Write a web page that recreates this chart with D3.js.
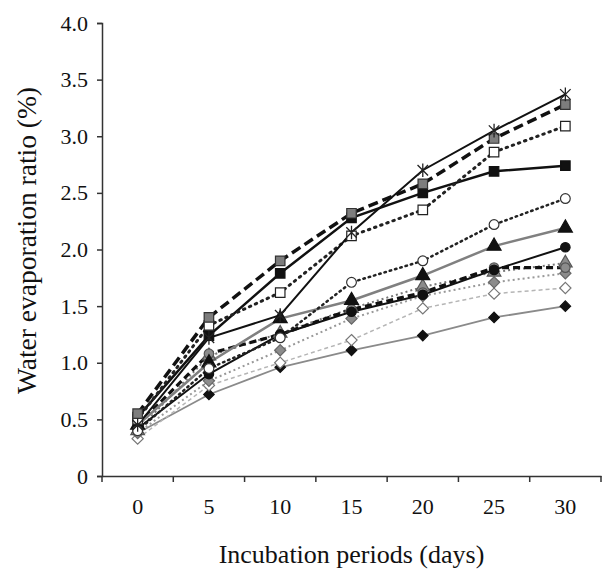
<!DOCTYPE html>
<html>
<head>
<meta charset="utf-8">
<script src="https://cdn.jsdelivr.net/npm/d3@7"></script>
<style>
  body { margin: 0; background: #fff; }
  svg text { font-family: "Liberation Serif", "Times New Roman", serif; fill: #111; }
</style>
</head>
<body>
<div id="chart"></div>
<script>
/* CONSTANTS AND GLOBALS */
const width = 606,
  height = 569,
  margin = { top: 23, bottom: 93, left: 102, right: 5 };

// x categories (days) and y ticks
const days = ["0", "5", "10", "15", "20", "25", "30"];
const yTicks = [0, 0.5, 1, 1.5, 2, 2.5, 3, 3.5, 4];

// series values
const starVals = [0.45, 1.22, 1.42, 2.15, 2.70, 3.05, 3.37];
const graySquareVals = [0.55, 1.40, 1.90, 2.32, 2.58, 2.98, 3.28];
const openSquareVals = [0.50, 1.33, 1.62, 2.12, 2.35, 2.86, 3.09];
const blackSquareVals = [0.52, 1.24, 1.79, 2.28, 2.50, 2.69, 2.74];
const openCircleVals = [0.40, 0.95, 1.22, 1.71, 1.90, 2.22, 2.45];
const blackTriangleVals = [0.45, 1.00, 1.39, 1.55, 1.77, 2.03, 2.19];
const blackCircleVals = [0.42, 0.90, 1.25, 1.45, 1.60, 1.82, 2.02];
const grayCircleVals = [0.45, 1.08, 1.25, 1.47, 1.62, 1.84, 1.84];
const grayTriangleVals = [0.40, 1.06, 1.26, 1.48, 1.67, 1.80, 1.88];
const grayDiamondVals = [0.38, 0.84, 1.11, 1.39, 1.59, 1.71, 1.79];
const openDiamondVals = [0.33, 0.80, 1.00, 1.20, 1.48, 1.61, 1.66];
const blackDiamondVals = [0.38, 0.72, 0.96, 1.11, 1.24, 1.40, 1.50];

// excel-like star marker: an X with a vertical bar
const starSymbol = {
  draw(ctx, size) {
    const r = Math.sqrt(size) / 2;
    ctx.moveTo(-r, -r); ctx.lineTo(r, r);
    ctx.moveTo(r, -r); ctx.lineTo(-r, r);
    ctx.moveTo(0, -r * 1.3); ctx.lineTo(0, r * 1.3);
  }
};

// drawn bottom first so the dark ones sit on top
const series = [
  { vals: blackDiamondVals, sym: d3.symbolDiamond2, fill: "#111", mstroke: "#111", line: "#8a8a8a", lw: 1.8, dash: null, size: 70 },
  { vals: openDiamondVals, sym: d3.symbolDiamond2, fill: "#fff", mstroke: "#777", line: "#b5b5b5", lw: 1.5, dash: "4,3", size: 80 },
  { vals: grayDiamondVals, sym: d3.symbolDiamond2, fill: "#8c8c8c", mstroke: "#666", line: "#999", lw: 2, dash: "2,3", size: 80 },
  { vals: grayTriangleVals, sym: d3.symbolTriangle, fill: "#8c8c8c", mstroke: "#555", line: "#777", lw: 2, dash: "2,3", size: 80 },
  { vals: grayCircleVals, sym: d3.symbolCircle, fill: "#8c8c8c", mstroke: "#555", line: "#111", lw: 3.2, dash: "7,4", size: 70 },
  { vals: blackCircleVals, sym: d3.symbolCircle, fill: "#111", mstroke: "#111", line: "#111", lw: 2, dash: null, size: 70 },
  { vals: blackTriangleVals, sym: d3.symbolTriangle, fill: "#111", mstroke: "#111", line: "#808080", lw: 2.5, dash: null, size: 85 },
  { vals: openCircleVals, sym: d3.symbolCircle, fill: "#fff", mstroke: "#333", line: "#222", lw: 2.5, dash: "1.5,4", size: 75 },
  { vals: blackSquareVals, sym: d3.symbolSquare, fill: "#111", mstroke: "#111", line: "#111", lw: 2.5, dash: null, size: 90 },
  { vals: openSquareVals, sym: d3.symbolSquare, fill: "#fff", mstroke: "#222", line: "#222", lw: 3, dash: "1.5,5", size: 90 },
  { vals: graySquareVals, sym: d3.symbolSquare, fill: "#7d7d7d", mstroke: "#333", line: "#111", lw: 3.5, dash: "10,5", size: 90 },
  { vals: starVals, sym: starSymbol, fill: "none", mstroke: "#222", line: "#111", lw: 2, dash: null, size: 110 }
];

/* SCALES */
const xScale = d3.scaleBand()
  .domain(days)
  .range([margin.left, width - margin.right]);

const yScale = d3.scaleLinear()
  .domain([0, 4])
  .range([height - margin.bottom, margin.top]);

/* SVG */
const svg = d3.select("#chart")
  .append("svg")
  .attr("width", width)
  .attr("height", height);

// + AXES
const yAxis = d3.axisLeft(yScale)
  .tickValues(yTicks)
  .tickSize(5)
  .tickPadding(9)
  .tickFormat(d => d === 0 ? "0" : d3.format(".1f")(d));

const gy = svg.append("g")
  .attr("class", "axis y-axis")
  .attr("transform", `translate(${margin.left},0)`)
  .call(yAxis);

gy.select(".domain").attr("stroke", "#333").attr("stroke-width", 1.5);
gy.selectAll(".tick line").attr("stroke", "#333").attr("stroke-width", 1.5);
gy.selectAll(".tick text").attr("font-size", 22).attr("fill", "#111");

const xAxis = d3.axisBottom(xScale)
  .tickSize(0)
  .tickPadding(22);

const gx = svg.append("g")
  .attr("class", "axis x-axis")
  .attr("transform", `translate(0,${height - margin.bottom})`)
  .call(xAxis);

gx.select(".domain").attr("stroke", "#333").attr("stroke-width", 1.5);
gx.selectAll(".tick text").attr("font-size", 22).attr("fill", "#111");

// tick marks sit between the categories, excel style
const bounds = days.map(d => xScale(d)).concat([xScale.range()[1]]);
gx.selectAll(".bound")
  .data(bounds)
  .join("line")
  .attr("class", "bound")
  .attr("x1", d => d)
  .attr("x2", d => d)
  .attr("y1", 0)
  .attr("y2", 6)
  .attr("stroke", "#333")
  .attr("stroke-width", 1.5);

// axis titles
svg.append("text")
  .attr("x", (margin.left + width - margin.right) / 2)
  .attr("y", 563)
  .attr("text-anchor", "middle")
  .attr("font-size", 26)
  .text("Incubation periods (days)");

svg.append("text")
  .attr("transform", `translate(36,${(margin.top + height - margin.bottom) / 2 - 9}) rotate(-90)`)
  .attr("text-anchor", "middle")
  .attr("font-size", 27.5)
  .text("Water evaporation ratio (%)");

/* LINES AND MARKERS */
const cx = i => xScale(days[i]) + xScale.bandwidth() / 2;

const line = d3.line()
  .x((d, i) => cx(i))
  .y(d => yScale(d));

const plot = svg.append("g").attr("class", "plot");

series.forEach(s => {
  plot.append("path")
    .datum(s.vals)
    .attr("fill", "none")
    .attr("stroke", s.line)
    .attr("stroke-width", s.lw)
    .attr("stroke-dasharray", s.dash)
    .attr("stroke-linecap", s.dash && s.dash.startsWith("1.5") ? "round" : "butt")
    .attr("d", line);
});

series.forEach(s => {
  const sym = d3.symbol().type(s.sym).size(s.size);
  plot.append("g")
    .selectAll("path")
    .data(s.vals)
    .join("path")
    .attr("transform", (d, i) => `translate(${cx(i)},${yScale(d)})`)
    .attr("d", sym)
    .attr("fill", s.fill)
    .attr("stroke", s.mstroke)
    .attr("stroke-width", s.sym === starSymbol ? 1.3 : 1.2);
});
</script>
</body>
</html>
